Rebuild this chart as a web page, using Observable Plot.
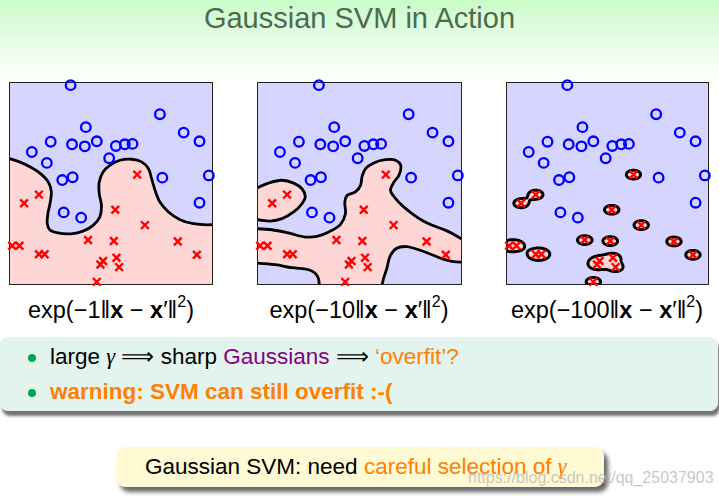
<!DOCTYPE html>
<html><head><meta charset="utf-8">
<script src="https://cdn.jsdelivr.net/npm/d3@7"></script>
<script src="https://cdn.jsdelivr.net/npm/@observablehq/plot@0.6"></script>
<style>
html,body{margin:0;padding:0;}
body{width:719px;height:496px;position:relative;overflow:hidden;background:#fff;font-family:"Liberation Sans",Arial,sans-serif;}
#bg{position:absolute;left:0;top:0;width:719px;height:90px;background:linear-gradient(to bottom,#c9fbc9 0px,#e6fde6 40px,#ffffff 84px);}
.abs{position:absolute;white-space:nowrap;line-height:1;}
.panel{position:absolute;top:74px;}
.panel svg{overflow:visible;}
.lab{font-size:23.5px;width:260px;text-align:center;color:#000;}
.lab sup{font-size:0.68em;position:relative;top:-0.15em;}
.g{font-family:"Liberation Serif","DejaVu Serif",serif;font-style:italic;}
.bul{position:absolute;width:8px;height:8px;border-radius:50%;background:#00a651;}
</style></head>
<body>
<div id="bg"></div>
<div class="abs" style="left:0;width:719px;text-align:center;top:2px;font-size:29px;line-height:32px;color:#4d6a50;">Gaussian SVM in Action</div>
<div id="p1" class="panel" style="left:1px"></div>
<div id="p2" class="panel" style="left:249px"></div>
<div id="p3" class="panel" style="left:498px"></div>
<div id="l1" class="abs lab" style="left:-19px;top:296px"></div>
<div id="l2" class="abs lab" style="left:229px;top:296px"></div>
<div id="l3" class="abs lab" style="left:477px;top:296px"></div>

<div style="position:absolute;left:0;top:337px;width:718px;height:74px;border-radius:8px;background:#e3f3ed;box-shadow:2px 5px 3px rgba(0,0,0,0.55);"></div>
<div class="bul" style="left:28px;top:354px"></div>
<div class="bul" style="left:28px;top:389px"></div>
<div class="abs" style="left:50px;top:346px;font-size:22.5px;color:#000">large <span class="g">γ</span> ⟹ sharp <span style="color:#850085">Gaussians</span> ⟹ <span style="color:#ff8000">‘overfit’?</span></div>
<div class="abs" style="left:50px;top:381px;font-size:22.5px;color:#ff8000;font-weight:bold">warning: SVM can still overfit :-(</div>

<div style="position:absolute;left:116px;top:447px;width:488px;height:40px;border-radius:9px;background:#fff9d4;box-shadow:4px 5px 4px rgba(0,0,0,0.6);"></div>
<div class="abs" style="left:145px;top:456px;font-size:22.5px;color:#000">Gaussian SVM: need <span style="color:#ff8000">careful selection of <span class="g">γ</span></span></div>
<div class="abs" style="left:468px;top:470px;font-size:16px;color:rgba(185,185,185,0.8)">https://blog.csdn.net/qq_25037903</div>

<script>
// kernel widths (gamma) of the three panels
const gammas = [1, 10, 100];

// training data, unit square, y up
const blueX = [0.301,0.741,0.376,0.858,0.936,0.203,0.308,0.371,0.430,0.524,0.568,0.606,0.110,0.184,0.491,0.260,0.311,0.753,0.982,0.936,0.267,0.353];
const blueY = [0.987,0.843,0.779,0.752,0.709,0.707,0.694,0.684,0.709,0.686,0.694,0.696,0.656,0.602,0.625,0.517,0.531,0.529,0.540,0.405,0.357,0.331];
const redX = [0.629,0.145,0.072,0.521,0.667,0.387,0.514,0.829,0.013,0.049,0.145,0.173,0.923,0.527,0.461,0.448,0.540,0.430];
const redY = [0.544,0.445,0.402,0.370,0.294,0.220,0.215,0.213,0.192,0.192,0.150,0.150,0.147,0.132,0.116,0.099,0.086,0.013];

// decision boundary, gamma = 1
const boundary1 = [[0,0.623],[0.049,0.607],[0.107,0.579],[0.157,0.545],[0.194,0.502],[0.206,0.458],[0.201,0.408],[0.189,0.350],[0.186,0.301],[0.198,0.271],[0.239,0.255],[0.305,0.251],[0.362,0.264],[0.412,0.293],[0.445,0.334],[0.453,0.392],[0.442,0.450],[0.442,0.507],[0.461,0.557],[0.494,0.590],[0.544,0.615],[0.601,0.620],[0.651,0.607],[0.684,0.574],[0.700,0.524],[0.717,0.466],[0.741,0.408],[0.783,0.359],[0.840,0.321],[0.906,0.301],[0.956,0.296],[1,0.296]];

// decision boundaries, gamma = 10
const boundary2Upper = [[0,0.276],[0.070,0.271],[0.152,0.255],[0.234,0.235],[0.292,0.238],[0.349,0.260],[0.407,0.298],[0.431,0.350],[0.428,0.408],[0.439,0.441],[0.480,0.458],[0.505,0.491],[0.513,0.536],[0.530,0.574],[0.570,0.602],[0.628,0.618],[0.677,0.615],[0.702,0.590],[0.693,0.540],[0.669,0.507],[0.652,0.466],[0.677,0.425],[0.718,0.383],[0.759,0.350],[0.808,0.317],[0.857,0.293],[0.923,0.268],[0.972,0.243],[1,0.226]];
const boundary2LowerRight = [[1,0.111],[0.960,0.113],[0.907,0.127],[0.808,0.166],[0.730,0.188],[0.680,0.178],[0.650,0.140],[0.634,0.080],[0.618,0.030],[0.611,0]];
const boundary2LowerLeft = [[0.303,0],[0.297,0.035],[0.280,0.058],[0.251,0.073],[0.169,0.083],[0.087,0.098],[0,0.106]];
const boundary2Island = [[0,0.479],[0.054,0.502],[0.120,0.516],[0.177,0.502],[0.218,0.474],[0.234,0.436],[0.218,0.400],[0.177,0.359],[0.120,0.326],[0.062,0.314],[0,0.321]];

// gamma = 100 panel: Gaussian bump widths in unit-square x and y
const bumpWidth = [0.046, 0.028];

const blue = blueX.map((x, i) => ({x, y: blueY[i]}));
const red = redX.map((x, i) => ({x, y: redY[i]}));
const px = d => d[0], py = d => d[1];

const BLUEBG = "#d5d5ff", REDBG = "#ffd6d6";

function panel(width, extra) {
  return Plot.plot({
    width, height: 218, margin: 8,
    x: {domain: [0, 1], axis: null},
    y: {domain: [0, 1], axis: null},
    style: {background: "transparent", overflow: "visible"},
    marks: [
      Plot.frame({fill: BLUEBG, stroke: null}),
      ...extra,
      Plot.frame({stroke: "#222", strokeWidth: 1}),
      Plot.dot(blue, {x: "x", y: "y", r: 4.8, stroke: "#0000ff", strokeWidth: 2.3, fill: "none"}),
      Plot.dot(red, {x: "x", y: "y", r: 3.6, symbol: "times", stroke: "#ff0000", strokeWidth: 2.4})
    ]
  });
}

function fillLine(pts) {
  return Plot.line(pts, {x: px, y: py, curve: "catmull-rom", fill: REDBG, stroke: "none", clip: true});
}
function strokeLine(pts) {
  return Plot.line(pts, {x: px, y: py, curve: "catmull-rom", stroke: "#000", strokeWidth: 2.8, clip: true});
}

// panel 1
const fill1 = [[-0.1,-0.1],[-0.1,boundary1[0][1]], ...boundary1, [1.1,boundary1[boundary1.length-1][1]],[1.1,-0.1]];
document.getElementById("p1").append(panel(219, [fillLine(fill1), strokeLine(boundary1)]));

// panel 2
const up = boundary2Upper, lr = boundary2LowerRight, ll = boundary2LowerLeft;
const fill2 = [[-0.1, up[0][1]], ...up, [1.1, up[up.length-1][1]], [1.1, lr[0][1]], ...lr, [lr[lr.length-1][0], -0.1], [ll[0][0], -0.1], ...ll, [-0.1, ll[ll.length-1][1]]];
const isl = boundary2Island;
const fillIsland = [[-0.1, isl[0][1]], ...isl, [-0.1, isl[isl.length-1][1]]];
document.getElementById("p2").append(panel(220, [
  fillLine(fill2), fillLine(fillIsland),
  strokeLine(up), strokeLine(lr), strokeLine(ll), strokeLine(isl)
]));

// panel 3: Gaussian bumps around each red point
function bump(x, y, cx, cy) {
  const dx = (x - cx) / bumpWidth[0], dy = (y - cy) / bumpWidth[1];
  return Math.exp(-(dx * dx + dy * dy));
}
function decision(x, y) {
  let s = -0.55;
  for (const p of red) s += bump(x, y, p.x, p.y);
  for (const p of blue) s -= bump(x, y, p.x, p.y);
  return s;
}
document.getElementById("p3").append(panel(218, [
  Plot.contour({x1: 0, y1: 0, x2: 1, y2: 1, value: (x, y) => decision(x, y), thresholds: [0], pixelSize: 0.5, fill: REDBG, stroke: "#000", strokeWidth: 3, clip: true})
]));

// panel labels
gammas.forEach((g, i) => {
  document.getElementById("l" + (i + 1)).innerHTML =
    `exp(−${g}‖<b>x</b> − <b>x</b>′‖<sup>2</sup>)`;
});
</script>
</body></html>
